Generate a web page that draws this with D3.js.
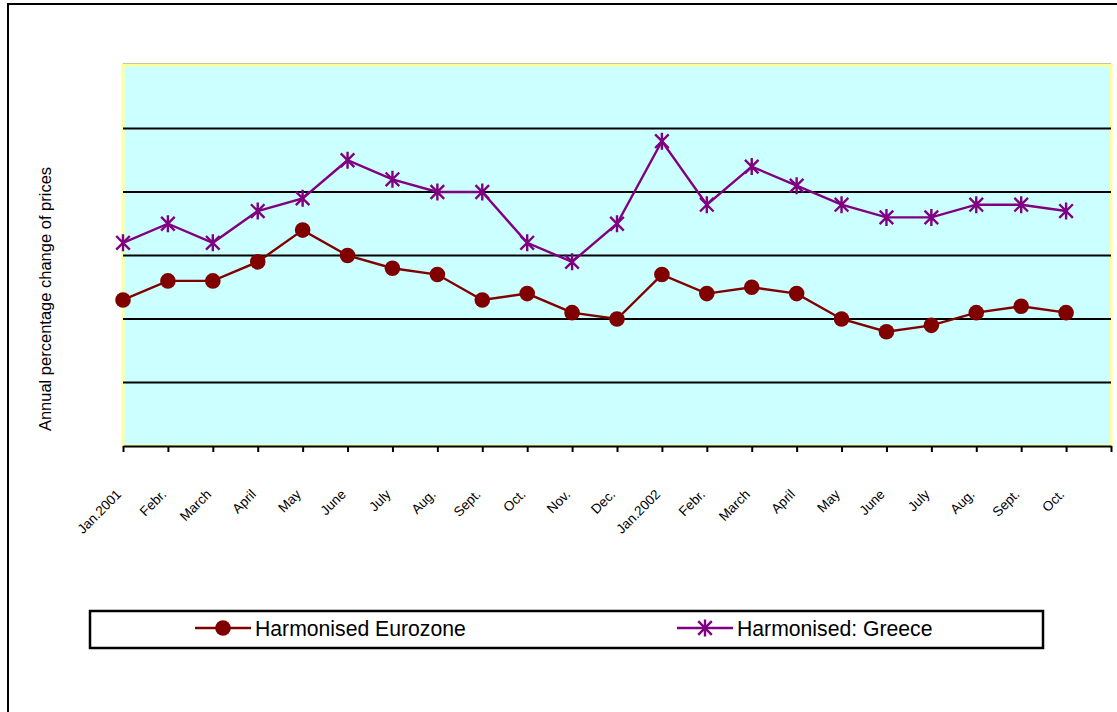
<!DOCTYPE html>
<html>
<head>
<meta charset="utf-8">
<script src="https://cdn.jsdelivr.net/npm/d3@7"></script>
<style>
  html, body { margin: 0; padding: 0; background: #fff; }
  svg { display: block; }
  text { font-family: "Liberation Sans", Arial, sans-serif; }
</style>
</head>
<body>
<svg id="chart" width="1117" height="712"></svg>
<script>
// ---- Data ----
const months = ["Jan.2001","Febr.","March","April","May","June","July","Aug.","Sept.","Oct.","Nov.","Dec.",
                "Jan.2002","Febr.","March","April","May","June","July","Aug.","Sept.","Oct."];
const eurozone = [2.3, 2.6, 2.6, 2.9, 3.4, 3.0, 2.8, 2.7, 2.3, 2.4, 2.1, 2.0,
                  2.7, 2.4, 2.5, 2.4, 2.0, 1.8, 1.9, 2.1, 2.2, 2.1];
const greece   = [3.2, 3.5, 3.2, 3.7, 3.9, 4.5, 4.2, 4.0, 4.0, 3.2, 2.9, 3.5,
                  4.8, 3.8, 4.4, 4.1, 3.8, 3.6, 3.6, 3.8, 3.8, 3.7];
const gridValues = [1, 2, 3, 4, 5];
const seriesNames = ["Harmonised Eurozone", "Harmonised: Greece"];
const yTitle = "Annual percentage change of prices";

// ---- Layout ----
const svg = d3.select("#chart");
const pLeft = 123, pRight = 1111, pTop = 65, pBottom = 446;
const x = d3.scaleLinear().domain([0, months.length]).range([pLeft, pRight]);
const y = d3.scaleLinear().domain([0, 6]).range([pBottom, pTop]);
const euroColor = "#800000", greeceColor = "#800080";

// outer chart frame
svg.append("rect").attr("x", 8).attr("y", 4).attr("width", 1200).attr("height", 800)
  .attr("fill", "none").attr("stroke", "#000").attr("stroke-width", 2);

// plot area
svg.append("rect").attr("x", pLeft).attr("y", pTop).attr("width", pRight - pLeft).attr("height", pBottom - pTop)
  .attr("fill", "#ccffff").attr("stroke", "#ffff99").attr("stroke-width", 3);
svg.append("line").attr("x1", pLeft).attr("x2", pRight).attr("y1", pTop - 1.5).attr("y2", pTop - 1.5)
  .attr("stroke", "#c8c8a0").attr("stroke-width", 1);

// gridlines
svg.append("g").selectAll("line").data(gridValues).join("line")
  .attr("x1", pLeft).attr("x2", pRight)
  .attr("y1", d => y(d)).attr("y2", d => y(d))
  .attr("stroke", "#000").attr("stroke-width", 2.2);

// x axis
const xAxis = d3.axisBottom(x)
  .tickValues(d3.range(months.length + 1))
  .tickSize(6).tickSizeOuter(0)
  .tickFormat(() => "");
const gx = svg.append("g").attr("transform", `translate(0,${pBottom})`).call(xAxis);
gx.select(".domain").attr("stroke", "#000").attr("stroke-width", 2.2);
gx.selectAll(".tick line").attr("stroke", "#000").attr("stroke-width", 2);

// rotated labels
svg.append("g").selectAll("text").data(months).join("text")
  .attr("transform", (d, i) => `translate(${x(i) - 4},${pBottom + 46}) rotate(-45)`)
  .attr("text-anchor", "end")
  .attr("dominant-baseline", "central")
  .attr("font-size", 13.5)
  .attr("fill", "#000")
  .text(d => d);

// y title
svg.append("text")
  .attr("transform", `translate(45,299) rotate(-90)`)
  .attr("text-anchor", "middle")
  .attr("dominant-baseline", "central")
  .attr("font-size", 16.5)
  .attr("fill", "#000")
  .text(yTitle);

// lines
const line = d3.line().x((d, i) => x(i)).y(d => y(d));
svg.append("path").datum(greece).attr("d", line)
  .attr("fill", "none").attr("stroke", greeceColor).attr("stroke-width", 2.4);
svg.append("path").datum(eurozone).attr("d", line)
  .attr("fill", "none").attr("stroke", euroColor).attr("stroke-width", 2.4);

// star marker
function starPath(cx, cy, r) {
  const d = r * 0.8;
  return `M${cx},${cy - r}L${cx},${cy + r}M${cx - d},${cy - d}L${cx + d},${cy + d}M${cx - d},${cy + d}L${cx + d},${cy - d}`;
}
svg.append("g").selectAll("path").data(greece).join("path")
  .attr("d", (d, i) => starPath(x(i), y(d), 8.5))
  .attr("stroke", greeceColor).attr("stroke-width", 2.4).attr("fill", "none");

svg.append("g").selectAll("circle").data(eurozone).join("circle")
  .attr("cx", (d, i) => x(i)).attr("cy", d => y(d)).attr("r", 7.8)
  .attr("fill", euroColor);

// legend
const lg = svg.append("g");
lg.append("rect").attr("x", 90).attr("y", 611).attr("width", 953).attr("height", 37)
  .attr("fill", "#fff").attr("stroke", "#000").attr("stroke-width", 2.5);
const ly = 628;
lg.append("line").attr("x1", 195).attr("x2", 251).attr("y1", ly).attr("y2", ly)
  .attr("stroke", euroColor).attr("stroke-width", 2.4);
lg.append("circle").attr("cx", 223).attr("cy", ly).attr("r", 7.8).attr("fill", euroColor);
lg.append("text").attr("x", 255).attr("y", ly).attr("dominant-baseline", "central")
  .attr("font-size", 21.2).attr("fill", "#000").text(seriesNames[0]);
lg.append("line").attr("x1", 677).attr("x2", 733).attr("y1", ly).attr("y2", ly)
  .attr("stroke", greeceColor).attr("stroke-width", 2.4);
lg.append("path").attr("d", starPath(705, ly, 8.5))
  .attr("stroke", greeceColor).attr("stroke-width", 2.4).attr("fill", "none");
lg.append("text").attr("x", 737).attr("y", ly).attr("dominant-baseline", "central")
  .attr("font-size", 21.2).attr("fill", "#000").text(seriesNames[1]);
</script>
</body>
</html>
